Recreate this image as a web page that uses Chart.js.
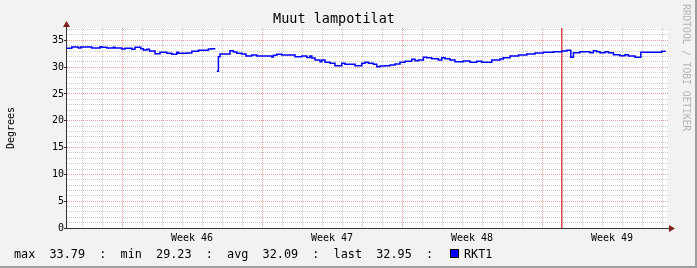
<!DOCTYPE html>
<html>
<head>
<meta charset="utf-8">
<script src="https://cdn.jsdelivr.net/npm/chart.js@4/dist/chart.umd.min.js"></script>
<style>
html,body{margin:0;padding:0;background:#f2f2f2;}
#wrap{position:relative;width:697px;height:268px;overflow:hidden;background:#f2f2f2;}
#c{position:absolute;left:0;top:0;}
.frameR{position:absolute;right:0;top:0;width:2px;height:268px;background:#9e9e9e;}
.frameB{position:absolute;left:0;bottom:0;width:697px;height:2px;background:#9e9e9e;}
#wm{position:absolute;left:681px;top:4px;writing-mode:vertical-rl;font-family:"DejaVu Sans Mono";font-size:9.6px;line-height:10px;color:#b4b4b4;white-space:nowrap;}
#stats{position:absolute;left:14px;top:246.5px;font-family:"DejaVu Sans Mono";font-size:11.8px;line-height:14.16px;color:#000;white-space:pre;}
#sname{position:absolute;left:464px;top:246.5px;font-family:"DejaVu Sans Mono";font-size:11.8px;line-height:14.16px;color:#000;white-space:pre;}
#box{position:absolute;left:450px;top:249px;width:7px;height:7px;background:#0000ff;border:1px solid #000;}
</style>
</head>
<body>
<div id="wrap">
  <canvas id="c" width="697" height="268"></canvas>
  <div id="wm"></div>
  <div id="stats"></div>
  <div id="box"></div>
  <div id="sname"></div>
  <div class="frameR"></div>
  <div class="frameB"></div>
</div>
<script>
// ---- data ----
const chartTitle = 'Muut lampotilat';
const yTitle = 'Degrees';
const watermark = 'RRDTOOL / TOBI OETIKER';
const seriesName = 'RKT1';
const statNames = ['max', 'min', 'avg', 'last'];
const statValues = ['33.79', '29.23', '32.09', '32.95'];

// time axis in days from the left edge of the graph
const xMax = 30.1;
const weekLabels = ['Week 46', 'Week 47', 'Week 48', 'Week 49'];
const weekStarts = [2.8, 9.8, 16.8, 23.8];
const vruleAt = 24.79;

const yMax = 37.3;
const yMajorStep = 5;

const times = [
  0.03,0.29,0.62,0.74,1.29,1.70,1.79,2.04,2.37,2.45,2.79,2.95,3.29,3.45,3.74,3.87,4.04,4.17,4.45,4.70,
  5.04,5.29,5.54,5.62,6.04,6.29,6.62,7.12,7.29,7.47,7.50,
  7.54,7.62,7.70,8.20,8.37,8.54,8.79,9.00,9.29,9.54,10.29,10.37,10.54,10.79,11.45,11.79,12.04,12.20,12.29,
  12.45,12.70,12.79,12.95,13.20,13.45,13.79,13.95,14.45,14.79,14.95,15.12,15.37,15.54,15.70,15.95,16.20,16.45,16.70,16.95,
  17.29,17.45,17.62,17.87,18.04,18.29,18.62,18.79,18.95,19.20,19.45,19.87,20.20,20.54,20.79,21.29,21.70,21.87,22.20,22.62,
  23.04,23.45,23.87,24.37,24.79,25.04,25.24,25.37,25.70,26.20,26.37,26.54,26.70,26.95,27.12,27.37,27.70,27.95,28.12,28.45,
  28.74,29.79,29.99
];
const values = [
  33.51,33.76,33.57,33.76,33.57,33.79,33.70,33.57,33.70,33.57,33.38,33.51,33.32,33.70,33.45,33.20,33.32,33.01,32.50,32.76,
  32.57,32.40,32.76,32.57,32.64,32.95,33.14,33.38,33.45,33.45,null,
  29.23,31.95,32.45,33.07,32.83,32.57,32.45,32.08,32.26,32.08,31.89,32.20,32.39,32.26,31.95,32.08,31.82,32.08,31.70,
  31.33,31.02,31.33,30.90,30.71,30.27,30.71,30.52,30.27,30.71,30.90,30.71,30.52,30.09,30.21,30.27,30.40,30.58,30.89,31.08,
  31.45,31.20,31.33,31.83,31.76,31.58,31.33,31.76,31.58,31.33,31.02,31.14,30.90,31.08,30.90,31.33,31.50,31.76,32.08,32.26,
  32.45,32.64,32.76,32.89,33.01,33.14,31.83,32.70,32.89,32.70,33.08,32.89,32.70,32.89,32.70,32.33,32.14,32.33,32.08,31.83,
  32.76,32.95,32.95
];

// ---- styles ----
const FONT = 'DejaVu Sans Mono';
const minorCol = '#cbcbcb';
const majorCol = '#eba0a0';
const axisCol = '#333333';
const arrowCol = '#801f1f';
const near = (a, b) => Math.abs(a - b) < 1e-6;

// text outside the canvas
document.getElementById('wm').textContent = watermark;
document.getElementById('stats').textContent = statNames.map((n, i) => n + '  ' + statValues[i] + '  :').join('  ');
document.getElementById('sname').textContent = seriesName;

// tick sets
const dayLines = [];
for (let k = 0; weekStarts[0] - 2 + k < xMax; k++) dayLines.push(+(weekStarts[0] - 2 + k).toFixed(3));
const labelTicks = weekStarts.map(s => s + 3.5);
const xTicks = dayLines.concat(labelTicks).sort((a, b) => a - b);
const yTicks = [];
for (let v = 0; v <= Math.floor(yMax); v++) yTicks.push(v);

const bgPlugin = {
  id: 'bg',
  beforeDraw(chart) {
    const {ctx, chartArea: a} = chart;
    ctx.save();
    ctx.fillStyle = '#ffffff';
    ctx.fillRect(a.left, a.top, a.right - a.left, a.bottom - a.top);
    ctx.restore();
  }
};
const arrowPlugin = {
  id: 'arrows',
  afterDraw(chart) {
    const {ctx, chartArea: a} = chart;
    const ax = Math.round(a.left) + 0.5;
    const ay = Math.round(a.bottom) + 0.5;
    ctx.save();
    ctx.strokeStyle = axisCol;
    ctx.lineWidth = 1;
    ctx.beginPath();
    ctx.moveTo(ax, a.top); ctx.lineTo(ax, a.top - 3);
    ctx.moveTo(a.right, ay); ctx.lineTo(a.right + 2, ay);
    ctx.stroke();
    ctx.fillStyle = arrowCol;
    ctx.beginPath();
    ctx.moveTo(ax, a.top - 7); ctx.lineTo(ax - 3.5, a.top - 1); ctx.lineTo(ax + 3.5, a.top - 1);
    ctx.closePath(); ctx.fill();
    ctx.beginPath();
    ctx.moveTo(a.right + 7, ay); ctx.lineTo(a.right + 1, ay - 3.5); ctx.lineTo(a.right + 1, ay + 3.5);
    ctx.closePath(); ctx.fill();
    ctx.restore();
  }
};

new Chart(document.getElementById('c').getContext('2d'), {
  type: 'line',
  data: {
    datasets: [
      {
        label: seriesName,
        data: times.map((t, i) => ({x: t, y: values[i]})),
        borderColor: '#0000ff',
        borderWidth: 1.5,
        pointRadius: 0,
        stepped: true,
        fill: false,
        spanGaps: false
      },
      {
        label: 'vrule',
        data: [{x: vruleAt, y: 0}, {x: vruleAt, y: yMax}],
        borderColor: '#dd0000',
        borderWidth: 1,
        pointRadius: 0,
        fill: false
      }
    ]
  },
  options: {
    responsive: false,
    animation: false,
    devicePixelRatio: 1,
    layout: {padding: {left: 0, right: 29, top: 0, bottom: 20}},
    plugins: {
      legend: {display: false},
      tooltip: {enabled: false},
      title: {
        display: true,
        text: chartTitle,
        color: '#000',
        font: {family: FONT, size: 13.5, weight: 'normal', lineHeight: 1.2},
        padding: {top: 10.9, bottom: 0.9}
      }
    },
    scales: {
      x: {
        type: 'linear',
        min: 0,
        max: xMax,
        afterBuildTicks: s => { s.ticks = xTicks.map(v => ({value: v})); },
        afterFit: s => { s.height = 20; },
        ticks: {
          autoSkip: false, maxRotation: 0, minRotation: 0, padding: 4,
          color: '#000', font: {family: FONT, size: 10},
          callback: v => { const i = labelTicks.findIndex(s => near(s, v)); return i >= 0 ? weekLabels[i] : ''; }
        },
        grid: {
          drawTicks: false,
          lineWidth: 1,
          color: c => {
            const v = c.tick ? c.tick.value : null;
            if (v === null || labelTicks.some(s => near(s, v))) return 'rgba(0,0,0,0)';
            return weekStarts.some(s => near(s, v)) ? majorCol : minorCol;
          }
        },
        border: {display: true, color: axisCol, width: 1, dash: [1, 1]}
      },
      y: {
        type: 'linear',
        min: 0,
        max: yMax,
        afterBuildTicks: s => { s.ticks = yTicks.map(v => ({value: v})); },
        afterFit: s => { s.width = 66; },
        ticks: {
          autoSkip: false, padding: 0,
          color: '#000', font: {family: FONT, size: 10},
          callback: v => (v % yMajorStep === 0 ? String(v) : '')
        },
        grid: {
          drawTicks: true,
          tickLength: 2,
          lineWidth: 1,
          tickColor: c => (c.tick && c.tick.value % yMajorStep === 0 ? axisCol : 'rgba(0,0,0,0)'),
          color: c => {
            const v = c.tick ? c.tick.value : null;
            if (v === null || v === 0) return 'rgba(0,0,0,0)';
            return v % yMajorStep === 0 ? majorCol : minorCol;
          }
        },
        border: {display: true, color: axisCol, width: 1, dash: [1, 1]},
        title: {
          display: true,
          text: yTitle,
          color: '#000',
          font: {family: FONT, size: 10, lineHeight: 1.2},
          padding: {top: 5, bottom: 0}
        }
      }
    }
  },
  plugins: [bgPlugin, arrowPlugin]
});
</script>
</body>
</html>
